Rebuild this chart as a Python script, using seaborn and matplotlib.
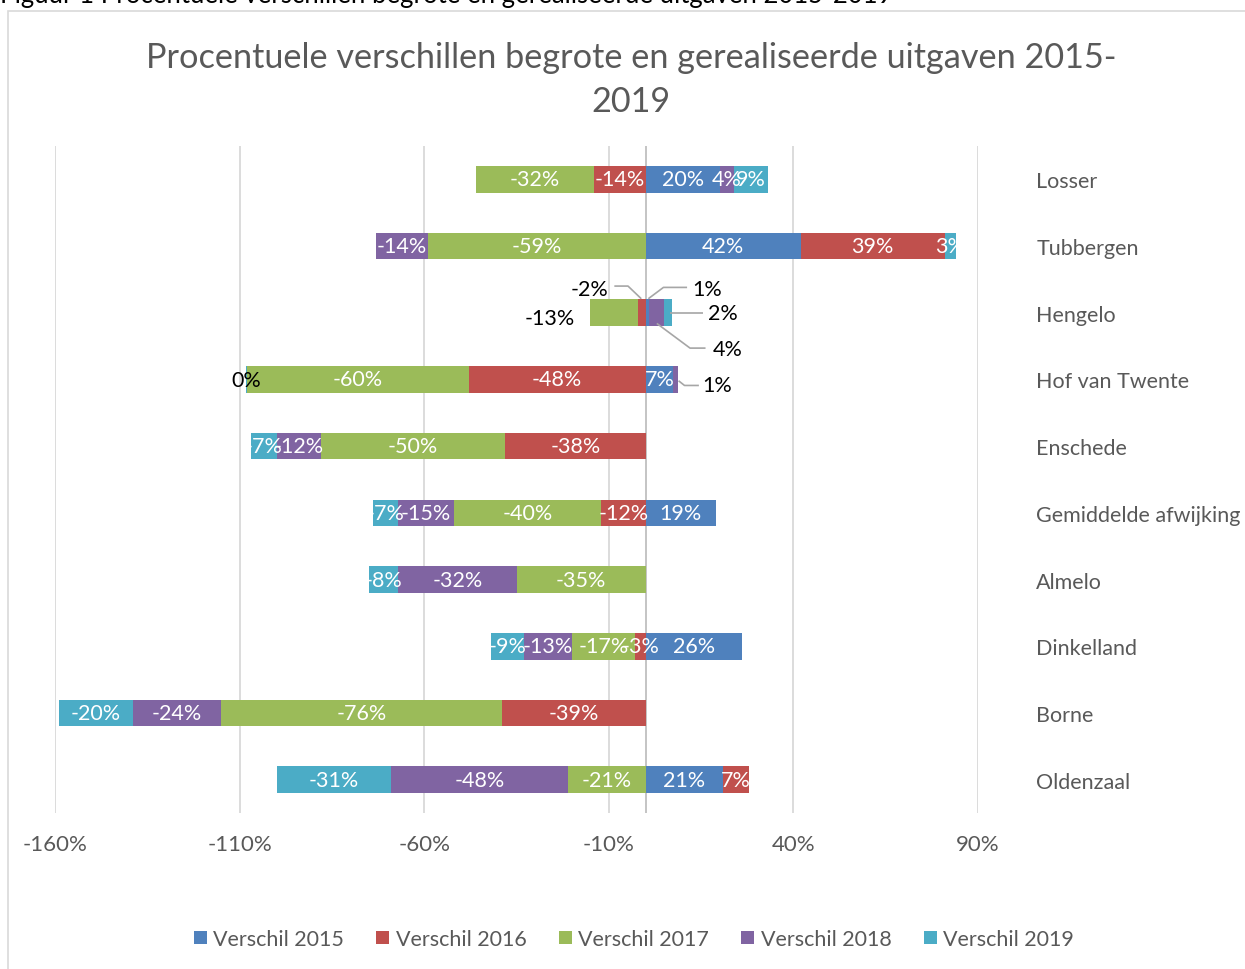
import numpy as np
import pandas as pd
import seaborn as sns
import matplotlib
matplotlib.use("Agg")
import matplotlib.pyplot as plt
from matplotlib.patches import Rectangle, Patch

# ---------------- data ----------------
categories = ["Losser", "Tubbergen", "Hengelo", "Hof van Twente", "Enschede",
              "Gemiddelde afwijking", "Almelo", "Dinkelland", "Borne", "Oldenzaal"]
series_names = ["Verschil 2015", "Verschil 2016", "Verschil 2017", "Verschil 2018", "Verschil 2019"]
v2015 = [20, 42, 1, 7.4, 0, 19, 0, 26, 0, 21]
v2016 = [-14, 39, -2, -48, -38, -12, 0, -3, -39, 7]
v2017 = [-32, -59, -13, -60, -50, -40, -35, -17, -76, -21]
v2018 = [4, -14, 4, 1.3, -12, -15, -32, -13, -24, -48]
v2019 = [9, 3, 2, -0.3, -7, -7, -8, -9, -20, -31]
xticks = [-160, -110, -60, -10, 40, 90]
title_lines = ["Procentuele verschillen begrote en gerealiseerde uitgaven 2015-", "2019"]
caption = "Figuur 1 Procentuele verschillen begrote en gerealiseerde uitgaven 2015-2019"

colors = ["#4F81BD", "#C0504D", "#9BBB59", "#8064A2", "#4BACC6"]
values = np.array([v2015, v2016, v2017, v2018, v2019], dtype=float)

# ---------------- style ----------------
sns.set_theme(style="white")
plt.rcParams["font.family"] = ["Lato", "DejaVu Sans"]
GREY = "#595959"
FS = 15.5

W, H = 1245, 970
fig = plt.figure(figsize=(W / 100, H / 100), dpi=100)
left, right = 55 / W, 978 / W
top, bottom = 1 - 147 / H, 1 - 814 / H
ax = fig.add_axes([left, bottom, right - left, top - bottom])

# stacked diverging ends
pos_cum = np.zeros(len(categories))
neg_cum = np.zeros(len(categories))
starts = np.zeros_like(values)
pos_end = np.zeros_like(values)
neg_end = np.zeros_like(values)
for i in range(len(series_names)):
    v = values[i]
    s = np.where(v >= 0, pos_cum, neg_cum)
    starts[i] = s
    pos_cum = np.where(v > 0, pos_cum + v, pos_cum)
    neg_cum = np.where(v < 0, neg_cum + v, neg_cum)
    pos_end[i] = np.where(v > 0, pos_cum, 0)
    neg_end[i] = np.where(v < 0, neg_cum, 0)

# draw outermost first so inner segments overlay
for i in reversed(range(len(series_names))):
    for ends in (pos_end[i], neg_end[i]):
        df = pd.DataFrame({"cat": categories, "val": ends})
        sns.barplot(data=df, x="val", y="cat", order=categories, orient="h",
                    color=colors[i], saturation=1, width=0.4, errorbar=None,
                    linewidth=0, ax=ax)

ax.set_xlim(-160, 90)
ax.set_ylim(9.5, -0.5)
ax.set_xticks(xticks)
ax.set_xticklabels([f"{t}%" for t in xticks])
ax.set_xlabel("")
ax.set_ylabel("")
for sp in ax.spines.values():
    sp.set_visible(False)
ax.xaxis.grid(True, color="#D9D9D9", lw=1.3)
ax.yaxis.grid(False)
ax.set_axisbelow(True)
ax.axvline(0, color="#BFBFBF", lw=1.3, zorder=0.5)
ax.tick_params(axis="x", length=0, pad=15, labelsize=FS + 0.5, labelcolor=GREY)
ax.yaxis.tick_right()
ax.tick_params(axis="y", length=0, pad=42, labelsize=FS, labelcolor=GREY)
for lab in ax.get_yticklabels():
    lab.set_ha("left")

# data labels
outside = {("Hengelo", 0), ("Hengelo", 1), ("Hengelo", 2), ("Hengelo", 3), ("Hengelo", 4),
           ("Hof van Twente", 3), ("Hof van Twente", 4)}
for i in range(len(series_names)):
    for j, cat in enumerate(categories):
        v = values[i, j]
        if v == 0 or (cat, i) in outside:
            continue
        ax.text(starts[i, j] + v / 2, j, f"{int(round(v))}%", ha="center", va="center",
                color="white", fontsize=FS)

# external labels with leader lines (Hengelo, Hof van Twente)
def lab_txt(i, j):
    return f"{int(round(values[i, j]))}%"

hj = categories.index("Hengelo")
hv = categories.index("Hof van Twente")
ext = [
    (1, hj, -15.1, hj - 0.36, [(-8.5, -4.8, -1.2), (hj - 0.4, hj - 0.4, hj - 0.21)]),
    (0, hj, 16.7, hj - 0.36, [(11.2, 4.8, 0.7), (hj - 0.38, hj - 0.38, hj - 0.21)]),
    (4, hj, 20.9, hj + 0.01, [(15.6, 6.6), (hj, hj)]),
    (3, hj, 22.2, hj + 0.54, [(16.2, 12.0, 3.0), (hj + 0.53, hj + 0.53, hj + 0.16)]),
    (2, hj, -25.9, hj + 0.08, None),
    (3, hv, 19.3, hv + 0.09, [(14.4, 10.5, 8.9), (hv + 0.09, hv + 0.09, hv + 0.02)]),
    (4, hv, -108.3, hv + 0.01, None),
]
for i, j, x, y, line in ext:
    ax.text(x, y, lab_txt(i, j), ha="center", va="center", color="black", fontsize=FS)
    if line is not None:
        ax.plot(line[0], line[1], color="#A6A6A6", lw=1.2, solid_capstyle="butt")

# title
fig.text(631 / W, 1 - 58 / H, title_lines[0], ha="center", va="center",
         fontsize=24.7, color=GREY)
fig.text(631 / W, 1 - 102 / H, title_lines[1], ha="center", va="center",
         fontsize=24.7, color=GREY)

# caption cut at top
fig.text(0 / W, 1 - 3 / H, caption, ha="left", va="baseline", fontsize=18.5, color="black")

# chart frame
fig.patches.append(Rectangle((8 / W, -0.05), 1.2, 1.05 - 12 / H, transform=fig.transFigure,
                             fill=False, edgecolor="#D9D9D9", lw=1.2))

# legend
handles = [Patch(facecolor=c, edgecolor="none", label=n) for c, n in zip(colors, series_names)]
fig.legend(handles=handles, loc="center", bbox_to_anchor=(634 / W, 1 - 940 / H), ncol=5,
           frameon=False, fontsize=FS, labelcolor=GREY, handlelength=0.6,
           handleheight=0.6, handletextpad=0.3, columnspacing=1.5)

fig.savefig("out.png", dpi=100)
